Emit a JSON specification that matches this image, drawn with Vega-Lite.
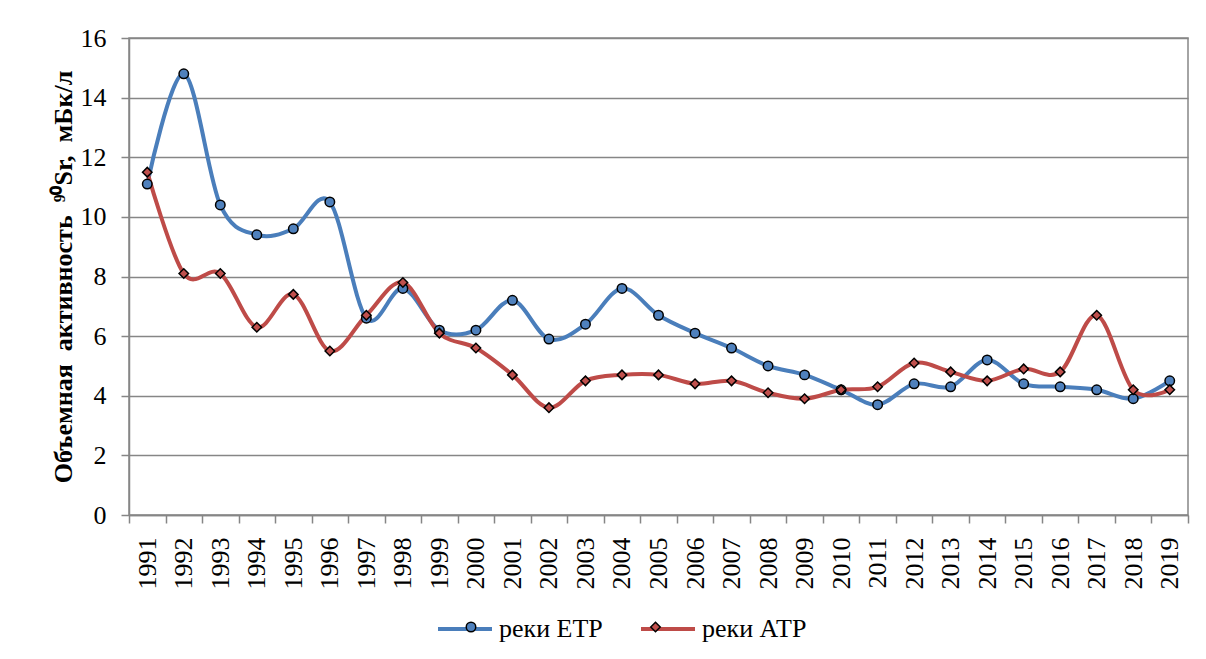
{
  "$schema": "https://vega.github.io/schema/vega-lite/v6.json",
  "width": 1059,
  "height": 477,
  "autosize": {"type": "none"},
  "padding": {"left": 129, "top": 38, "right": 18, "bottom": 144},
  "background": "white",
  "config": {
    "font": "'Liberation Serif', 'Times New Roman', serif",
    "view": {"stroke": "#868686", "strokeWidth": 1.5},
    "axis": {
      "labelFont": "'Liberation Serif', 'Times New Roman', serif",
      "labelFontSize": 26,
      "labelColor": "black",
      "domainColor": "#868686",
      "domainWidth": 1.5,
      "tickColor": "#868686",
      "tickWidth": 1.5,
      "gridColor": "#868686",
      "gridWidth": 1.5,
      "titleFont": "'Liberation Serif', 'Times New Roman', serif",
      "titleColor": "black"
    }
  },
  "data": {
    "values": [
      {"year": "1991", "series": "реки ЕТР", "value": 11.1},
      {"year": "1992", "series": "реки ЕТР", "value": 14.8},
      {"year": "1993", "series": "реки ЕТР", "value": 10.4},
      {"year": "1994", "series": "реки ЕТР", "value": 9.4},
      {"year": "1995", "series": "реки ЕТР", "value": 9.6},
      {"year": "1996", "series": "реки ЕТР", "value": 10.5},
      {"year": "1997", "series": "реки ЕТР", "value": 6.6},
      {"year": "1998", "series": "реки ЕТР", "value": 7.6},
      {"year": "1999", "series": "реки ЕТР", "value": 6.2},
      {"year": "2000", "series": "реки ЕТР", "value": 6.2},
      {"year": "2001", "series": "реки ЕТР", "value": 7.2},
      {"year": "2002", "series": "реки ЕТР", "value": 5.9},
      {"year": "2003", "series": "реки ЕТР", "value": 6.4},
      {"year": "2004", "series": "реки ЕТР", "value": 7.6},
      {"year": "2005", "series": "реки ЕТР", "value": 6.7},
      {"year": "2006", "series": "реки ЕТР", "value": 6.1},
      {"year": "2007", "series": "реки ЕТР", "value": 5.6},
      {"year": "2008", "series": "реки ЕТР", "value": 5.0},
      {"year": "2009", "series": "реки ЕТР", "value": 4.7},
      {"year": "2010", "series": "реки ЕТР", "value": 4.2},
      {"year": "2011", "series": "реки ЕТР", "value": 3.7},
      {"year": "2012", "series": "реки ЕТР", "value": 4.4},
      {"year": "2013", "series": "реки ЕТР", "value": 4.3},
      {"year": "2014", "series": "реки ЕТР", "value": 5.2},
      {"year": "2015", "series": "реки ЕТР", "value": 4.4},
      {"year": "2016", "series": "реки ЕТР", "value": 4.3},
      {"year": "2017", "series": "реки ЕТР", "value": 4.2},
      {"year": "2018", "series": "реки ЕТР", "value": 3.9},
      {"year": "2019", "series": "реки ЕТР", "value": 4.5},
      {"year": "1991", "series": "реки АТР", "value": 11.5},
      {"year": "1992", "series": "реки АТР", "value": 8.1},
      {"year": "1993", "series": "реки АТР", "value": 8.1},
      {"year": "1994", "series": "реки АТР", "value": 6.3},
      {"year": "1995", "series": "реки АТР", "value": 7.4},
      {"year": "1996", "series": "реки АТР", "value": 5.5},
      {"year": "1997", "series": "реки АТР", "value": 6.7},
      {"year": "1998", "series": "реки АТР", "value": 7.8},
      {"year": "1999", "series": "реки АТР", "value": 6.1},
      {"year": "2000", "series": "реки АТР", "value": 5.6},
      {"year": "2001", "series": "реки АТР", "value": 4.7},
      {"year": "2002", "series": "реки АТР", "value": 3.6},
      {"year": "2003", "series": "реки АТР", "value": 4.5},
      {"year": "2004", "series": "реки АТР", "value": 4.7},
      {"year": "2005", "series": "реки АТР", "value": 4.7},
      {"year": "2006", "series": "реки АТР", "value": 4.4},
      {"year": "2007", "series": "реки АТР", "value": 4.5},
      {"year": "2008", "series": "реки АТР", "value": 4.1},
      {"year": "2009", "series": "реки АТР", "value": 3.9},
      {"year": "2010", "series": "реки АТР", "value": 4.2},
      {"year": "2011", "series": "реки АТР", "value": 4.3},
      {"year": "2012", "series": "реки АТР", "value": 5.1},
      {"year": "2013", "series": "реки АТР", "value": 4.8},
      {"year": "2014", "series": "реки АТР", "value": 4.5},
      {"year": "2015", "series": "реки АТР", "value": 4.9},
      {"year": "2016", "series": "реки АТР", "value": 4.8},
      {"year": "2017", "series": "реки АТР", "value": 6.7},
      {"year": "2018", "series": "реки АТР", "value": 4.2},
      {"year": "2019", "series": "реки АТР", "value": 4.2}
    ]
  },
  "encoding": {
    "x": {
      "field": "year",
      "type": "ordinal",
      "bandPosition": 0.5,
      "scale": {"type": "band", "paddingInner": 0, "paddingOuter": 0},
      "axis": {
        "title": null,
        "labelAngle": 270,
        "tickBand": "extent",
        "tickSize": 8,
        "labelPadding": 14,
        "grid": false
      }
    },
    "y": {
      "field": "value",
      "type": "quantitative",
      "scale": {"domain": [0, 16], "nice": false, "zero": true},
      "axis": {
        "values": [0, 2, 4, 6, 8, 10, 12, 14, 16],
        "title": "Объемная\u00a0\u00a0активность\u00a0\u00a0⁹⁰Sr,\u00a0\u00a0мБк/л",
        "titleFontSize": 26,
        "titleFontWeight": "bold",
        "titlePadding": 4,
        "tickSize": 8,
        "labelPadding": 15,
        "grid": true
      }
    }
  },
  "resolve": {"scale": {"color": "independent"}, "legend": {"color": "independent"}},
  "layer": [
    {
      "mark": {"type": "line", "interpolate": "cardinal", "strokeWidth": 4},
      "encoding": {
        "color": {
          "field": "series",
          "type": "nominal",
          "scale": {"domain": ["реки ЕТР", "реки АТР"], "range": ["#4A7EBB", "#BE4B48"]},
          "legend": {
            "title": null,
            "orient": "none",
            "direction": "horizontal",
            "legendX": 307,
            "legendY": 562,
            "padding": 0,
            "symbolType": "stroke",
            "symbolSize": 2916,
            "symbolStrokeWidth": 4,
            "labelFont": "'Liberation Serif', 'Times New Roman', serif",
            "labelFontSize": 26,
            "labelColor": "black",
            "labelOffset": 5,
            "columnPadding": 30
          }
        }
      }
    },
    {
      "mark": {"type": "point", "filled": true, "stroke": "black", "strokeWidth": 1.5, "opacity": 1, "size": 90},
      "encoding": {
        "color": {
          "field": "series",
          "type": "nominal",
          "scale": {"domain": ["реки ЕТР", "реки АТР"], "range": ["#4F81BD", "#C0504D"]},
          "legend": {
            "title": null,
            "orient": "none",
            "direction": "horizontal",
            "legendX": 329,
            "legendY": 576,
            "padding": 0,
            "symbolSize": 90,
            "symbolStrokeColor": "black",
            "symbolStrokeWidth": 1.5,
            "symbolOpacity": 1,
            "labelFont": "'Liberation Serif', 'Times New Roman', serif",
            "labelFontSize": 26,
            "labelOpacity": 0,
            "labelOffset": 26.5,
            "columnPadding": 27.5,
            "encode": {
              "symbols": {
                "update": {
                  "shape": {"signal": "datum.value === 'реки ЕТР' ? 'circle' : 'diamond'"}
                }
              }
            }
          }
        },
        "shape": {
          "field": "series",
          "type": "nominal",
          "scale": {"domain": ["реки ЕТР", "реки АТР"], "range": ["circle", "diamond"]},
          "legend": null
        }
      }
    }
  ]
}
